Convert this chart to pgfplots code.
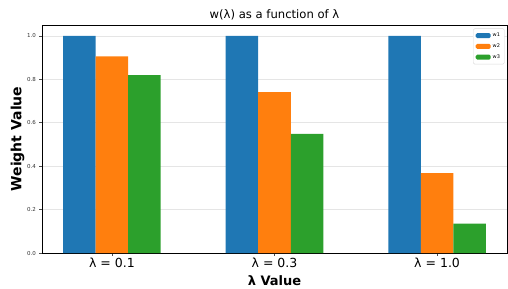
\documentclass[border=0pt]{standalone}
\usepackage{fontspec}
\setmainfont{DejaVu Sans}
\setsansfont{DejaVu Sans}
\usepackage{pgfplots}
\pgfplotsset{compat=1.18}
\definecolor{tabblue}{HTML}{1F77B4}
\definecolor{taborange}{HTML}{FF7F0E}
\definecolor{tabgreen}{HTML}{2CA02C}
\pgfplotsset{mylegend/.style={legend image code/.code={\fill[##1] (0pt,-2.5pt) rectangle (15pt,2.5pt);}}}
\begin{document}
\begin{tikzpicture}[x=1pt,y=1pt]
\begin{axis}[
  name=ax,
  at={(0,0)}, anchor=south west,
  scale only axis,
  width=465pt, height=228pt,
  xmin=-0.43, xmax=2.43,
  ymin=0, ymax=1.05,
  xtick={0,1,2},
  xticklabels={λ = 0.1, λ = 0.3, λ = 1.0},
  ytick={0,0.2,0.4,0.6,0.8,1.0},
  yticklabel style={/pgf/number format/.cd, fixed, fixed zerofill, precision=1, /tikz/.cd, font=\fontsize{5.5}{6}\selectfont, text=black!80},
  /pgf/number format/assume math mode=true,
  xticklabel style={font=\fontsize{12.5}{13}\selectfont, yshift=1pt},
  xtick pos=bottom, ytick pos=left,
  tick align=outside,
  major tick length=2.5pt,
  tick style={black!70, line width=0.6pt},
  axis line style={black, line width=0.8pt},
  ymajorgrids,
  grid style={black!10, line width=0.6pt},
  xlabel={\textbf{λ Value}},
  ylabel={\textbf{Weight Value}},
  xlabel style={font=\fontsize{13}{14}\selectfont, yshift=-1pt},
  ylabel style={font=\fontsize{14}{15}\selectfont, yshift=-4pt},
  title={w(λ) as a function of λ},
  title style={font=\fontsize{11.6}{12}\selectfont, yshift=-5pt},
  legend style={at={(0.995,0.985)}, anchor=north east, font=\fontsize{5}{6}\selectfont,
    draw=black!15, rounded corners=1.5pt, row sep=1.5pt, inner sep=2.5pt},
  legend cell align=left,
  ybar, bar width=0.2,
]
\addplot[fill=tabblue, draw=none, bar shift=-0.2, mylegend] coordinates {(0,1.0) (1,1.0) (2,1.0)};
\addplot[fill=taborange, draw=none, bar shift=0, mylegend] coordinates {(0,0.905) (1,0.741) (2,0.368)};
\addplot[fill=tabgreen, draw=none, bar shift=0.2, mylegend] coordinates {(0,0.819) (1,0.549) (2,0.135)};
\legend{w1,w2,w3}
\end{axis}
\path[use as bounding box] ([xshift=-42pt,yshift=-35pt]ax.south west) rectangle ([xshift=1pt,yshift=25pt]ax.north east);
\end{tikzpicture}
\end{document}
